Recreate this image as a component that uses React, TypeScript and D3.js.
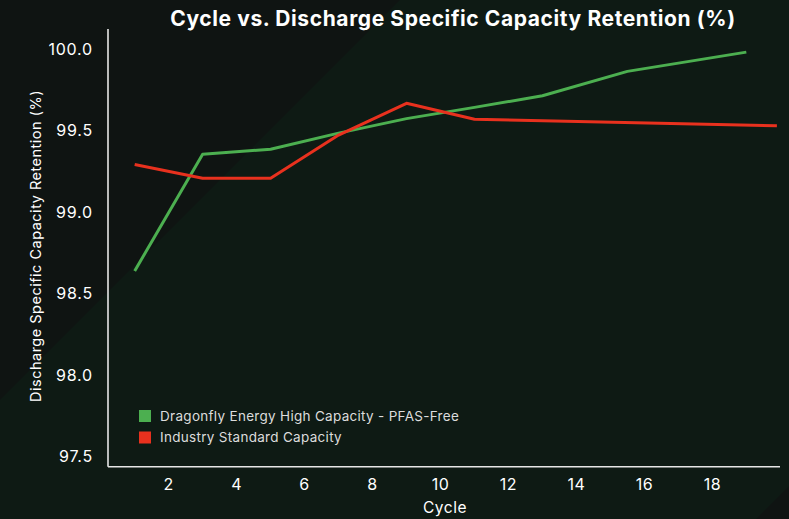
import React from "react";
import * as d3 from "d3";

const greenCycles = [1, 3, 5, 7, 9, 11, 13, 15.5, 19];
const greenValues = [98.64, 99.356, 99.387, 99.486, 99.575, 99.644, 99.715, 99.865, 99.983];
const redCycles = [1, 3, 5, 7, 9, 11, 19.9];
const redValues = [99.294, 99.209, 99.209, 99.474, 99.669, 99.571, 99.531];
const xTicks = [2, 4, 6, 8, 10, 12, 14, 16, 18];
const yTicks = [97.5, 98.0, 98.5, 99.0, 99.5, 100.0];
const seriesNames = ["Dragonfly Energy High Capacity - PFAS-Free", "Industry Standard Capacity"];
const seriesColors = ["#4caf50", "#e8311e"];

const W = 789;
const H = 519;
const plotLeft = 108;
const plotRight = 780;
const plotTop = 29;
const plotBottom = 466.7;

export default function App() {
  const x = d3.scaleLinear().domain([0, 20]).range([100.7, 780.3]);
  const y = d3.scaleLinear().domain([97.439, 100.125]).range([plotBottom, plotTop]);
  const line = d3
    .line<[number, number]>()
    .x((d) => x(d[0]))
    .y((d) => y(d[1]));
  const green = greenCycles.map((c, i) => [c, greenValues[i]] as [number, number]);
  const red = redCycles.map((c, i) => [c, redValues[i]] as [number, number]);
  const font = "Inter, 'Open Sans', sans-serif";

  return (
    <svg
      width={W}
      height={H}
      style={{ position: "absolute", left: 0, top: 0, display: "block" }}
      fontFamily={font}
    >
      <rect x={0} y={0} width={W} height={H} fill="#0e1a14" />
      <polygon points={`0,0 400,0 0,400`} fill="#0f1412" />
      <polygon points={`${W},${1275 - W} ${W},${H} ${1275 - H},${H}`} fill="#0f1412" />

      <text x={453} y={26} textAnchor="middle" fill="#ffffff" fontSize={21} fontWeight={700} letterSpacing={0.6}>
        Cycle vs. Discharge Specific Capacity Retention (%)
      </text>

      <line x1={plotLeft} x2={plotLeft} y1={plotTop} y2={plotBottom} stroke="#e6e6e6" strokeWidth={1.6} />
      <line x1={plotLeft} x2={plotRight} y1={plotBottom} y2={plotBottom} stroke="#e6e6e6" strokeWidth={1.6} />

      {yTicks.map((t) => (
        <text key={t} x={93} y={y(t)} dy="0.35em" textAnchor="end" fill="#ffffff" fontSize={16} letterSpacing={0.8}>
          {t.toFixed(1)}
        </text>
      ))}
      {xTicks.map((t) => (
        <text key={t} x={x(t)} y={484} dy="0.35em" textAnchor="middle" fill="#ffffff" fontSize={16} letterSpacing={0.5}>
          {t}
        </text>
      ))}

      <text x={445} y={508} dy="0.35em" textAnchor="middle" fill="#ffffff" fontSize={15.5} letterSpacing={0.5}>
        Cycle
      </text>
      <text
        transform={`translate(36, 246) rotate(-90)`}
        textAnchor="middle"
        dy="0.35em"
        fill="#ffffff"
        fontSize={14.5}
        letterSpacing={0.5}
      >
        Discharge Specific Capacity Retention (%)
      </text>

      <path d={line(green) || ""} fill="none" stroke={seriesColors[0]} strokeWidth={3} strokeLinejoin="round" />
      <path d={line(red) || ""} fill="none" stroke={seriesColors[1]} strokeWidth={3} strokeLinejoin="round" />

      {seriesNames.map((n, i) => (
        <g key={n} transform={`translate(139, ${410 + i * 21.5})`}>
          <rect x={0} y={0} width={12} height={12} fill={seriesColors[i]} />
          <text x={21} y={6} dy="0.35em" fill="#dcdcdc" fontSize={13.5} letterSpacing={0.3}>
            {n}
          </text>
        </g>
      ))}
    </svg>
  );
}
